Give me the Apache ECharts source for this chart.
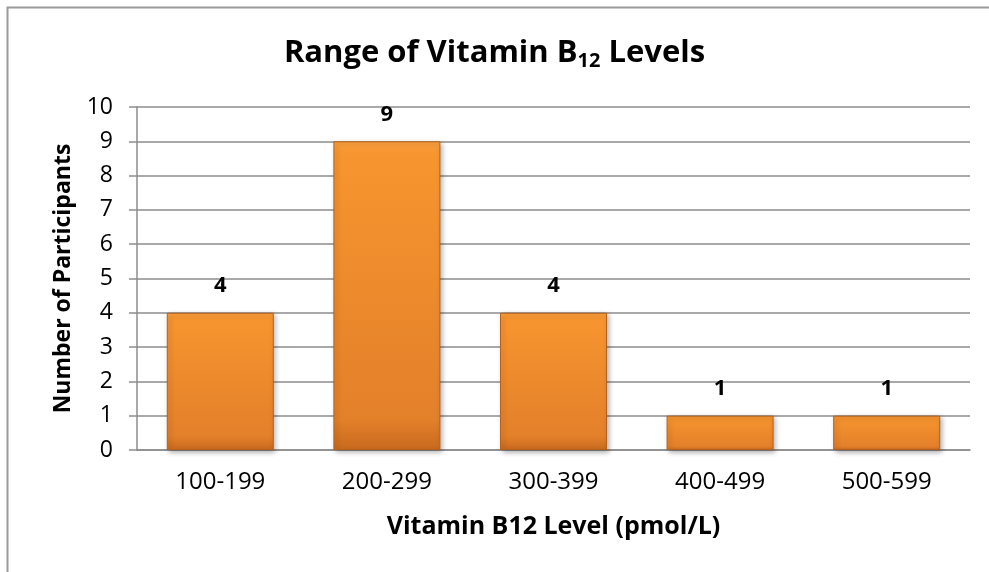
<!DOCTYPE html>
<html>
<head>
<meta charset="utf-8">
<script src="https://cdn.jsdelivr.net/npm/echarts@6/dist/echarts.min.js"></script>
<style>
  html, body { margin: 0; padding: 0; background: #fff; }
  #chart { width: 989px; height: 572px; }
</style>
</head>
<body>
<div id="chart"></div>
<script>
// data
const categories = ['100-199', '200-299', '300-399', '400-499', '500-599']
const participants = [4, 9, 4, 1, 1]
const yTicks = [0, 10, 1]   // min, max, interval

const font = '"Open Sans", Lato, sans-serif'

var chart = echarts.init(document.getElementById('chart'), null, { renderer: 'canvas' })

var option = {
  animation: false,
  backgroundColor: '#ffffff',
  textStyle: { fontFamily: font },
  title: {
    text: 'Range of Vitamin B{sub|12} Levels',
    left: 'center',
    top: 30,
    textStyle: {
      fontFamily: font,
      fontSize: 31,
      fontWeight: 'bold',
      color: '#000',
      rich: {
        sub: { fontFamily: font, fontSize: 20, fontWeight: 'bold', color: '#000', padding: [16, 0, 0, 0] }
      }
    }
  },
  graphic: [{
    type: 'rect',
    shape: { x: 7.5, y: 7.5, width: 1100, height: 700 },
    style: { fill: 'none', stroke: '#9a9a9a', lineWidth: 2 },
    silent: true
  }],
  grid: { left: 137, right: 19, top: 107, bottom: 122, containLabel: false },
  xAxis: {
    type: 'category',
    data: categories,
    name: 'Vitamin B12 Level (pmol/L)',
    nameLocation: 'middle',
    nameGap: 64,
    nameTextStyle: { fontFamily: font, fontSize: 25, fontWeight: 'bold', color: '#000' },
    axisLine: { show: true, lineStyle: { color: '#8c8c8c', width: 1.5 } },
    axisTick: { show: false },
    axisLabel: { fontFamily: font, fontSize: 24, color: '#000', margin: 20 }
  },
  yAxis: {
    type: 'value',
    min: yTicks[0],
    max: yTicks[1],
    interval: yTicks[2],
    name: 'Number of Participants',
    nameLocation: 'middle',
    nameGap: 62,
    nameTextStyle: { fontFamily: font, fontSize: 23, fontWeight: 'bold', color: '#000' },
    axisLine: { show: true, lineStyle: { color: '#8c8c8c', width: 1.5 } },
    axisTick: { show: true, length: 8, lineStyle: { color: '#8c8c8c', width: 1.5 } },
    axisLabel: { fontFamily: font, fontSize: 23, color: '#000', margin: 24 },
    splitLine: { show: true, lineStyle: { color: '#8c8c8c', width: 1.5 } }
  },
  series: [{
    type: 'bar',
    data: participants,
    barWidth: 107,
    itemStyle: {
      color: new echarts.graphic.LinearGradient(0, 0, 0, 1, [
        { offset: 0, color: '#fba040' },
        { offset: 0.04, color: '#f7952f' },
        { offset: 0.9, color: '#e3802a' },
        { offset: 1, color: '#c86a1e' }
      ]),
      borderColor: '#b5611c',
      borderWidth: 1,
      shadowColor: 'rgba(0,0,0,0.3)',
      shadowBlur: 5,
      shadowOffsetX: 2,
      shadowOffsetY: 2
    },
    label: {
      show: true,
      position: 'top',
      distance: 16,
      fontFamily: font,
      fontSize: 22,
      fontWeight: 'bold',
      color: '#000'
    }
  }]
}

chart.setOption(option)
</script>
</body>
</html>
